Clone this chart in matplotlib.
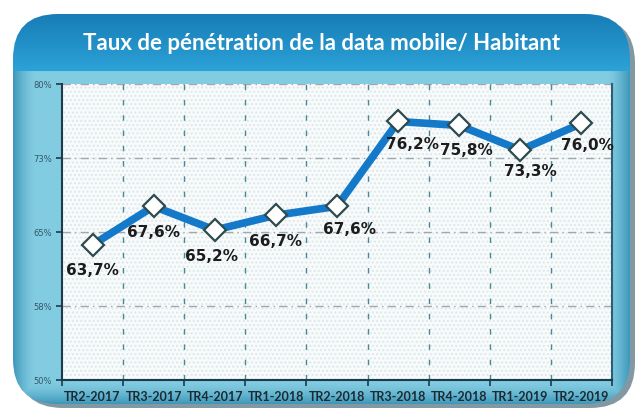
import numpy as np
import matplotlib
matplotlib.use('Agg')
import matplotlib.pyplot as plt
from matplotlib.patches import FancyBboxPatch, Rectangle

# data
categories = ['TR2-2017', 'TR3-2017', 'TR4-2017', 'TR1-2018', 'TR2-2018',
              'TR3-2018', 'TR4-2018', 'TR1-2019', 'TR2-2019']
values = [63.7, 67.6, 65.2, 66.7, 67.6, 76.2, 75.8, 73.3, 76.0]
value_labels = ['63,7%', '67,6%', '65,2%', '66,7%', '67,6%',
                '76,2%', '75,8%', '73,3%', '76,0%']
y_ticks = [50, 57.5, 65, 72.5, 80]
y_ticklabels = ['50%', '58%', '65%', '73%', '80%']
title = 'Taux de pénétration de la data mobile/ Habitant'

# label offsets in pixels (dx right, dy down)
label_offsets = [(0, 26), (0, 26), (-3, 26), (0, 26), (13, 23),
                 (14, 23), (7, 25), (10, 21), (6, 22)]

W, H = 643, 411
fig = plt.figure(figsize=(W / 100, H / 100), dpi=100)

# ---- background card ----
bg = fig.add_axes([0, 0, 1, 1])
bg.set_xlim(0, W); bg.set_ylim(H, 0); bg.axis('off')

x0, y0, x1, y1 = 13, 14, 630, 404
shadow = FancyBboxPatch((x0 + 5, y0 + 4), x1 - x0, y1 - y0,
                        boxstyle='round,pad=0,rounding_size=45',
                        fc='#1b4558', ec='none', alpha=0.55)
bg.add_patch(shadow)
card = FancyBboxPatch((x0, y0), x1 - x0, y1 - y0,
                      boxstyle='round,pad=0,rounding_size=45',
                      fc='none', ec='none')
bg.add_patch(card)

hh, ww = y1 - y0, x1 - x0
yy, xx = np.mgrid[0:hh, 0:ww].astype(float)
band = 58
top_dark = np.array([0x17, 0x7c, 0xb6]) / 255
top_light = np.array([0x2c, 0xa3, 0xd8]) / 255
panel = np.array([0x82, 0xcc, 0xe1]) / 255
edge = np.array([0x3e, 0x98, 0xba]) / 255
t = np.clip(yy / band, 0, 1)[..., None]
band_col = top_dark * (1 - t) + top_light * t
d = np.minimum.reduce([xx, ww - 1 - xx, hh - 1 - yy])
e = np.clip(1 - d / 22, 0, 1)[..., None] ** 1.5
panel_col = panel * (1 - e) + edge * e
img = np.where((yy < band)[..., None], band_col, panel_col)
im = bg.imshow(img, extent=[x0, x1, y1, y0], aspect='auto', zorder=1)
im.set_clip_path(card)

bg.text(322, 43, title, color='white', fontsize=16, fontweight='bold',
        family='Lato', ha='center', va='center', zorder=3)

# ---- plot ----
L, R, T, B = 62, 612, 84, 380
ax = fig.add_axes([L / W, 1 - B / H, (R - L) / W, (B - T) / H])
ax.set_facecolor('#f8fbfc')
ax.add_patch(Rectangle((0, 0), 1, 1, transform=ax.transAxes, facecolor='none',
                       edgecolor='#dfe7ea', hatch='....', lw=0, zorder=0))
x = np.arange(len(categories))
ax.set_xlim(-0.5, len(categories) - 0.5)
ax.set_ylim(50, 80)

for yv in y_ticks[1:]:
    ax.axhline(yv, color='#9ea9ad', lw=1, linestyle=(0, (6, 3, 1, 3)), zorder=1)
for xb in np.arange(0.5, len(categories) - 0.5, 1):
    ax.axvline(xb, color='#4a8797', lw=1, linestyle=(0, (4, 7)), zorder=1)

ax.plot(x, values, color='#1479c9', lw=5.5, marker='D', ms=11,
        mfc='white', mec='#2d4a50', mew=1.6, zorder=3, solid_joinstyle='miter')

for xi, v, lab, (dx, dy) in zip(x, values, value_labels, label_offsets):
    ax.annotate(lab, (xi, v), xytext=(dx * 0.72, -dy * 0.72), textcoords='offset points',
                ha='center', va='center', fontsize=11, fontweight='bold',
                color='#1c1c1c', zorder=4)

ax.set_yticks(y_ticks)
ax.set_yticklabels(y_ticklabels, fontsize=6, color='#34566a')
ax.set_xticks(np.arange(-0.5, len(categories), 1))
ax.set_xticklabels([])
ax.set_xticks(x, minor=True)
ax.set_xticklabels(categories, minor=True, fontsize=9, fontweight='bold',
                   family='Lato', color='#1c2a33')
ax.tick_params(axis='x', which='major', length=4, width=1.2, color='#1c3a4a', direction='out')
ax.tick_params(axis='x', which='minor', length=0, pad=8)
ax.tick_params(axis='y', length=4, width=1.2, color='#1c3a4a', pad=3)

for s in ['left', 'bottom']:
    ax.spines[s].set_color('#1c3a4a'); ax.spines[s].set_linewidth(1.5)
ax.spines['top'].set_visible(False)
ax.spines['right'].set_color('#2f5d72'); ax.spines['right'].set_linewidth(1.5)

fig.savefig('out.png', dpi=100)
